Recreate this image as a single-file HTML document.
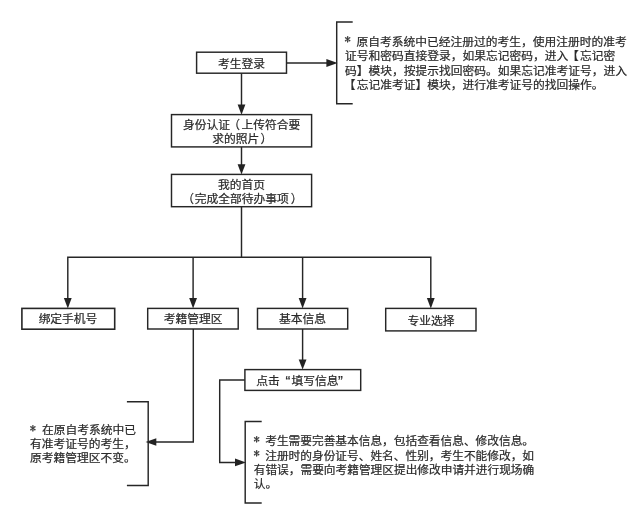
<!DOCTYPE html>
<html lang="zh-CN">
<head>
<meta charset="utf-8">
<title>流程图</title>
<style>
html,body{margin:0;padding:0;background:#fff;}
body{width:642px;height:531px;overflow:hidden;}
svg{display:block;will-change:transform;filter:blur(0.3px);}
text{font-family:"Liberation Sans","Noto Sans CJK SC",sans-serif;font-size:11.75px;fill:#2a2a2a;stroke:#2a2a2a;stroke-width:0.22;}
.b{fill:#fff;stroke:#262626;stroke-width:1.45;}
.l{fill:none;stroke:#262626;stroke-width:1.45;}
.a{fill:#222;stroke:none;}
.c{text-anchor:middle;}
.s{font-family:"IPAGothic","Liberation Sans",sans-serif;font-size:12.5px;stroke:#303030;stroke-width:0.25;}
.n{font-size:11.7px;}
.q{font-size:14.5px;}
</style>
</head>
<body>
<svg width="642" height="531" viewBox="0 0 642 531">
<rect x="0" y="0" width="642" height="531" fill="#fff"/>

<!-- connectors -->
<path class="l" d="M286.5 63H330"/>
<path class="a" d="M337.6 63L326.4 59.1V66.9Z"/>
<path class="l" d="M241.5 73.2V108"/>
<path class="a" d="M241.5 114.7L237.6 104.5H245.4Z"/>
<path class="l" d="M241.5 147V168"/>
<path class="a" d="M241.5 174.5L237.6 164.3H245.4Z"/>
<path class="l" d="M241.5 206.8V257.3"/>
<path class="l" d="M67.8 301V257.3H430.8V301"/>
<path class="l" d="M193.1 257.3V301"/>
<path class="l" d="M302.6 257.3V301"/>
<path class="a" d="M67.8 308.4L63.9 298H71.7Z"/>
<path class="a" d="M193.1 308.4L189.2 298H197Z"/>
<path class="a" d="M302.6 308.4L298.7 298H306.5Z"/>
<path class="a" d="M430.8 308.4L426.9 298H434.7Z"/>
<path class="l" d="M302.6 329V363"/>
<path class="a" d="M302.6 369.6L298.7 359.4H306.5Z"/>
<path class="l" d="M193.3 329V442H154"/>
<path class="a" d="M145.6 442L156.3 438.2V445.8Z"/>
<path class="l" d="M244.9 380H219.7V462.4H238"/>
<path class="a" d="M246 462.4L235 458.6V466.2Z"/>

<!-- brackets -->
<path class="l" d="M352.7 21.9H336.7V103.7H352.7"/>
<path class="l" d="M261.7 421.4H245.2V503H261.7"/>
<path class="l" d="M126.9 401.7H148.2V485.5H126.9"/>

<!-- boxes -->
<rect class="b" x="196.6" y="52.2" width="89.9" height="21"/>
<rect class="b" x="171.5" y="114.6" width="140.1" height="32.3"/>
<rect class="b" x="171.5" y="174.4" width="140.1" height="32.3"/>
<rect class="b" x="21.9" y="308.4" width="92.8" height="20.8" style="stroke-width:1.6"/>
<rect class="b" x="147.7" y="308.4" width="90.5" height="20.6"/>
<rect class="b" x="257.5" y="308.4" width="90.2" height="20.6"/>
<rect class="b" x="385.7" y="308.4" width="90.3" height="22.5"/>
<rect class="b" x="244.9" y="369.6" width="115.8" height="20.8"/>

<!-- box labels -->
<text class="c" x="241.4" y="67.7">考生登录</text>

<text x="183" y="128.5">身份认证</text>
<text x="228.3" y="128.5">（</text>
<text x="241.5" y="128.5">上传符合要</text>
<text x="212.2" y="143.4">求的照片</text>
<text x="260.5" y="143.4">）</text>

<text class="c" x="241.5" y="189">我的首页</text>
<text x="182.2" y="203">（</text>
<text x="194.7" y="203">完成全部待办事项</text>
<text x="290.8" y="203">）</text>

<text class="c" x="68" y="323">绑定手机号</text>
<text class="c" x="193.1" y="323">考籍管理区</text>
<text class="c" x="302.6" y="323">基本信息</text>
<text class="c" x="431" y="324.6">专业选择</text>

<text x="256.2" y="385">点击</text>
<text class="q" x="285.6" y="386.2">“</text>
<text x="291.4" y="385">填写信息</text>
<text class="q" x="338" y="386.2">”</text>

<!-- note top right -->
<text class="s" x="344.6" y="44.4">*</text>
<text x="356.5" y="46.3">原自考系统中已经注册过的考生，使用注册时的准考</text>
<text x="344.9" y="60.3">证号和密码直接登录，如果忘记密码，进入</text><text x="567" y="60.3">【</text><text x="579.9" y="60.3">忘记密</text>
<text x="344.9" y="74.8">码】模块，按提示找回密码。如果忘记准考证号，进入</text>
<text x="343.7" y="88.5">【</text>
<text x="356.65" y="88.5">忘记准考证】模块，进行准考证号的找回操作。</text>

<!-- note bottom left -->
<text class="s" x="29.8" y="433">*</text>
<text x="42" y="433.7">在原自考系统中已</text>
<text x="30" y="447.8">有准考证号的考生，</text>
<text x="30" y="461.6">原考籍管理区不变。</text>

<!-- note bottom right -->
<text class="s" x="253.5" y="443.6">*</text>
<text class="n" x="265.2" y="445.3">考生需要完善基本信息，包括查看信息、修改信息。</text>
<text class="s" x="253.5" y="458.3">*</text>
<text class="n" x="265.2" y="459.9">注册时的身份证号、姓名、性别，考生不能修改，如</text>
<text class="n" x="253.7" y="473.9">有错误，需要向考籍管理区提出修改申请并进行现场确</text>
<text class="n" x="253.7" y="488.3">认。</text>
</svg>
</body>
</html>
